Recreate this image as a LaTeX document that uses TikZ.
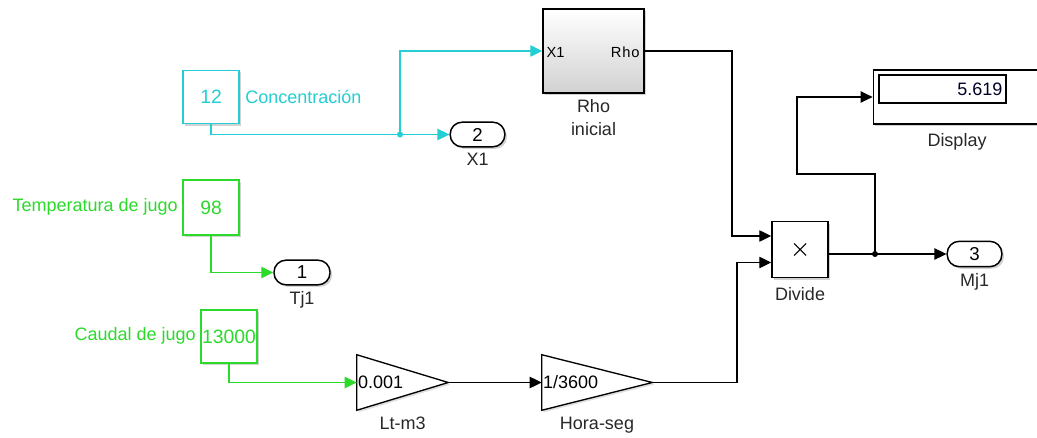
\documentclass[tikz,border=0pt]{standalone}
\usepackage{fontspec}
\setmainfont{Liberation Sans}
\usetikzlibrary{arrows.meta,calc,shadows,positioning}
\definecolor{cyn}{RGB}{36,206,210}
\definecolor{grn}{RGB}{44,218,44}
\definecolor{txt}{RGB}{40,40,40}
\tikzset{
  base/.style={font=\fontsize{13.5}{15}\selectfont},
  blk/.style={draw, line width=1.1pt, fill=white, inner sep=0pt,
    drop shadow={shadow xshift=1.6pt, shadow yshift=-1.6pt, opacity=0.35}},
  constc/.style={blk, draw=cyn, text=cyn, font=\fontsize{14.5}{16}\selectfont},
  constg/.style={blk, draw=grn, text=grn, font=\fontsize{14.5}{16}\selectfont},
  outport/.style={blk, draw=black, rounded corners=9pt, font=\fontsize{14}{16}\selectfont},
  wire/.style={line width=1pt, -{Triangle[length=9pt,width=8.5pt]}},
  cwire/.style={wire, draw=cyn, -{Triangle[length=9pt,width=8.5pt,fill=cyn]}},
  gwire/.style={wire, draw=grn, -{Triangle[length=9pt,width=8.5pt,fill=grn]}},
  lbl/.style={text=txt, inner sep=0pt},
  dot/.style={circle, fill, inner sep=0pt, minimum size=4.5pt},
}
\begin{document}
\begin{tikzpicture}[x=0.75pt,y=-0.75pt,base]
\clip (0,0) rectangle (1037,438);
\fill[white] (0,0) rectangle (1037,438);

% constants
\node[constc, minimum width=42pt, minimum height=40pt] (c12) at (211,97) {12};
\node[text=cyn, anchor=west, inner sep=0pt] (lc) at (245,97) {Concentración};
\node[constg, minimum width=42pt, minimum height=41pt] (c98) at (211,207.5) {98};
\node[text=grn, anchor=east, inner sep=0pt] (lt) at (178,207) {Temperatura de jugo};
\node[constg, minimum width=42pt, minimum height=40pt] (c13) at (229,336.5) {13000};
\node[text=grn, anchor=east, inner sep=0pt] (lq) at (196,336) {Caudal de jugo};

% outports
\node[outport, minimum width=41pt, minimum height=18.5pt] (o2) at (477.5,134.5) {2};
\node[lbl, below=4pt of o2] (lo2) {X1};
\node[outport, minimum width=42pt, minimum height=18.5pt] (o1) at (302,272.5) {1};
\node[lbl, below=4pt of o1] (lo1) {Tj1};
\node[outport, minimum width=41pt, minimum height=19pt] (o3) at (974.5,254) {3};
\node[lbl, below=4pt of o3] (lo3) {Mj1};

% Rho inicial subsystem
\node[blk, draw=black, top color=white, bottom color=black!18,
      minimum width=75.75pt, minimum height=63pt] (rho) at (593.5,51) {};
\node[anchor=west, inner sep=0pt, font=\fontsize{11}{12}\selectfont] (rx) at ($(rho.west)+(4,1)$) {X1};
\node[anchor=east, inner sep=0pt, font=\fontsize{11}{12}\selectfont] (rr) at ($(rho.east)+(-5,1)$) {R\kern0.6pt h\kern0.6pt o};
\node[lbl, align=center, font=\fontsize{13.5}{17.5}\selectfont, anchor=north] (lrho) at (593.5,99) {Rho\\inicial};

% gains
\node[minimum width=68.25pt, minimum height=41.25pt, inner sep=0pt] (g1) at (402.5,382.5) {};
\fill[black!12] ($(g1.north west)+(2,2)$) -- ($(g1.east)+(2,2)$) -- ($(g1.south west)+(2,2)$) -- cycle;
\draw[line width=1pt, fill=white] (g1.north west) -- (g1.east) -- (g1.south west) -- cycle;
\node[anchor=west, inner sep=0pt] (tg1) at ($(g1.west)+(1,0)$) {0.001};
\node[lbl, anchor=north] (lg1) at (402.5,417) {Lt-m3};

\node[minimum width=82.5pt, minimum height=41.25pt, inner sep=0pt] (g2) at (597,382.5) {};
\fill[black!12] ($(g2.north west)+(2,2)$) -- ($(g2.east)+(2,2)$) -- ($(g2.south west)+(2,2)$) -- cycle;
\draw[line width=1pt, fill=white] (g2.north west) -- (g2.east) -- (g2.south west) -- cycle;
\node[anchor=west, inner sep=0pt] (tg2) at ($(g2.west)+(1,0)$) {1/3600};
\node[lbl, anchor=north] (lg2) at (597,417) {Hora-seg};

% Divide
\node[blk, draw=black, minimum width=42pt, minimum height=42pt] (div) at (800,249.5) {};
\draw[line width=0.8pt] ($(div.center)+(-6,-6)$) -- ($(div.center)+(6,6)$)
                        ($(div.center)+(-6,6)$) -- ($(div.center)+(6,-6)$);
\node[lbl, below=7pt of div] (ldiv) {Divide};

% Display
\node[blk, draw=black, minimum width=130pt, minimum height=40.5pt] (disp) at (960,97) {};
\node[draw=black, line width=0.9pt, fill=white, minimum width=95.25pt, minimum height=21pt,
      inner sep=0pt] (dbox) at (942.5,89) {};
\node[anchor=east, inner sep=0pt, text=black!85!blue] (dval) at ($(dbox.east)+(-4,0)$) {5.619};
\node[lbl, anchor=north] (ldisp) at (957,133) {Display};

% wiring
\coordinate (j1) at (400,134.5);
\draw[cwire] (c12.south) |- (o2.west);
\draw[cwire] (j1) |- (rho.west);
\node[dot, fill=cyn] (dj1) at (j1) {};

\draw[gwire] (c98.south) |- (o1.west);
\draw[gwire] (c13.south) |- (g1.west);

\draw[wire] (g1.east) -- (g2.west);
\coordinate (din1) at ($(div.west)+(0,-13.5)$);
\coordinate (din2) at ($(div.west)+(0,13)$);
\coordinate (dout) at ($(div.east)+(0,4.5)$);
\draw[wire] (rho.east) -| (732,200) |- (din1);
\draw[wire] (g2.east) -| (737,300) |- (din2);

\coordinate (j2) at (875,254);
\draw[wire] (dout) -- (o3.west);
\draw[wire] (j2) -- (875,174) -| (797,130) |- (disp.west);
\node[dot] (dj2) at (j2) {};
\end{tikzpicture}
\end{document}
